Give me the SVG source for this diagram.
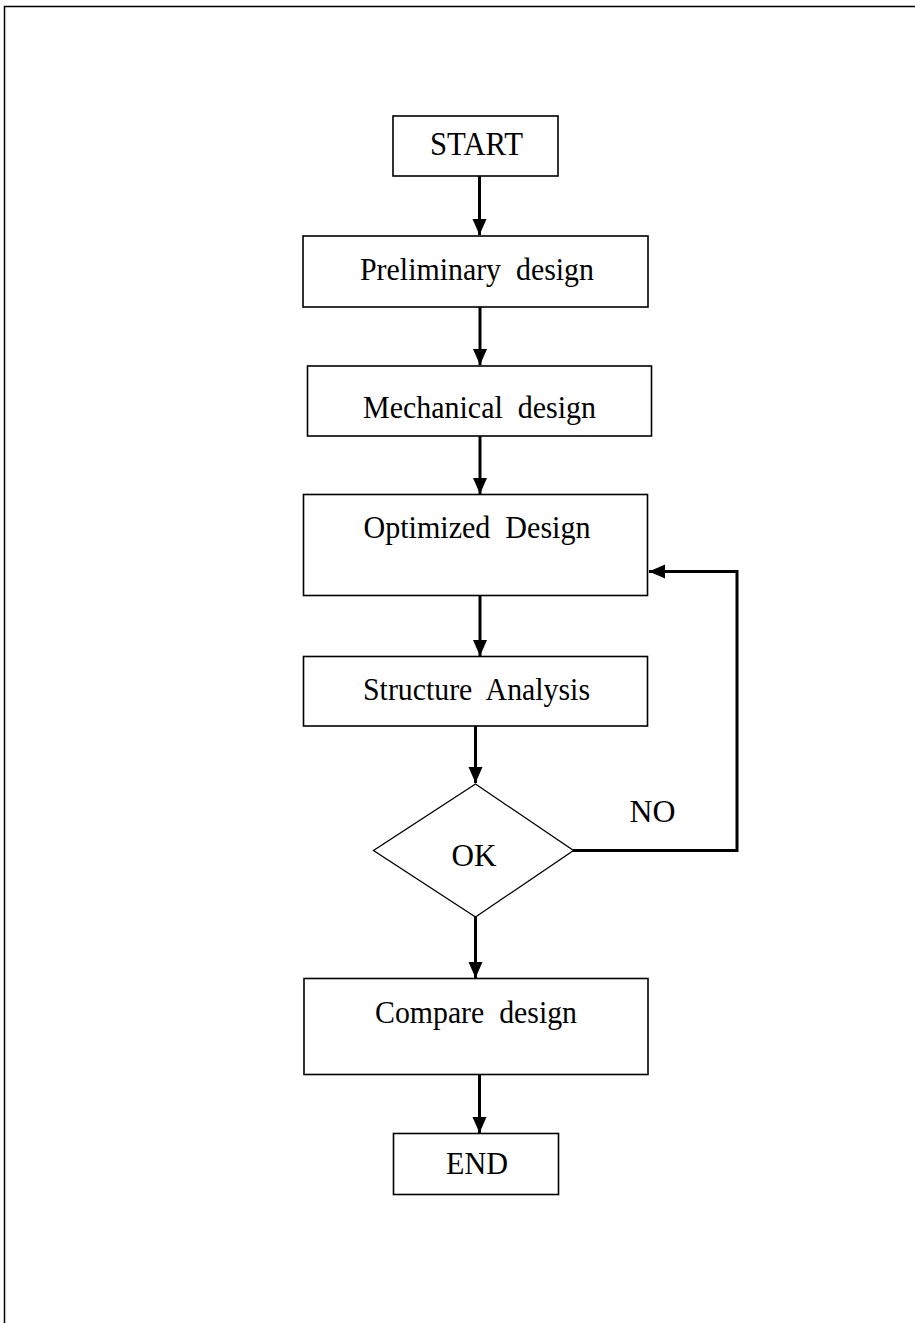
<svg xmlns="http://www.w3.org/2000/svg" width="915" height="1323" viewBox="0 0 915 1323">
<style>
.box{fill:#fff;stroke:#000;stroke-width:1.6}
.lbl{font-family:'Times New Roman','Liberation Serif',serif;font-size:32px;fill:#000}
.con{fill:none;stroke:#000;stroke-width:3}
.frame{fill:none;stroke:#000;stroke-width:1.5}
</style>
<defs>
<marker id="ah" markerUnits="userSpaceOnUse" markerWidth="17" markerHeight="16" refX="16" refY="8" orient="auto">
<path d="M0,1 L16,8 L0,15 z" fill="#000"/>
</marker>
</defs>
<rect width="915" height="1323" fill="#fff"/>
<path class="frame" d="M4.5,1323 V6.5 H915"/>
<g id="connectors">
<line class="con" x1="479.5" y1="176" x2="479.5" y2="235" marker-end="url(#ah)"/>
<line class="con" x1="480" y1="307" x2="480" y2="365" marker-end="url(#ah)"/>
<line class="con" x1="480" y1="436" x2="480" y2="494" marker-end="url(#ah)"/>
<line class="con" x1="480" y1="596" x2="480" y2="656" marker-end="url(#ah)"/>
<line class="con" x1="475.5" y1="726" x2="475.5" y2="783" marker-end="url(#ah)"/>
<line class="con" x1="475.5" y1="917" x2="475.5" y2="978" marker-end="url(#ah)"/>
<line class="con" x1="479.5" y1="1074" x2="479.5" y2="1133" marker-end="url(#ah)"/>
<polyline class="con" points="573,850.5 737,850.5 737,571.5 649,571.5" marker-end="url(#ah)"/>
<text class="lbl" x="629.5" y="821.5" textLength="46" lengthAdjust="spacingAndGlyphs">NO</text>
</g>
<g id="start">
<rect class="box" x="393" y="116" width="165" height="60"/>
<text class="lbl" x="430" y="155" style="font-size:34px" textLength="93" lengthAdjust="spacingAndGlyphs">START</text>
</g>
<g id="preliminary">
<rect class="box" x="303" y="236" width="345" height="71"/>
<text class="lbl" x="360" y="280" xml:space="preserve" textLength="234" lengthAdjust="spacingAndGlyphs">Preliminary  design</text>
</g>
<g id="mechanical">
<rect class="box" x="307.5" y="366" width="344" height="70"/>
<text class="lbl" x="363" y="418" xml:space="preserve" textLength="233" lengthAdjust="spacingAndGlyphs">Mechanical  design</text>
</g>
<g id="optimized">
<rect class="box" x="303.5" y="494.5" width="344" height="101"/>
<text class="lbl" x="363.5" y="538" xml:space="preserve" textLength="227" lengthAdjust="spacingAndGlyphs">Optimized  Design</text>
</g>
<g id="structure">
<rect class="box" x="303.5" y="656.5" width="344" height="69.5"/>
<text class="lbl" x="363" y="699.5" xml:space="preserve" textLength="227" lengthAdjust="spacingAndGlyphs">Structure  Analysis</text>
</g>
<g id="ok">
<polygon class="box" points="475.5,784 573.5,850.5 475.5,917 373.5,850.5" style="stroke-width:1.3"/>
<text class="lbl" x="451.5" y="866" textLength="45" lengthAdjust="spacingAndGlyphs">OK</text>
</g>
<g id="compare">
<rect class="box" x="304" y="978.5" width="344" height="96"/>
<text class="lbl" x="375" y="1022.5" xml:space="preserve" textLength="202" lengthAdjust="spacingAndGlyphs">Compare  design</text>
</g>
<g id="end">
<rect class="box" x="393.5" y="1133.5" width="165" height="61"/>
<text class="lbl" x="446" y="1173.5" textLength="62" lengthAdjust="spacingAndGlyphs">END</text>
</g>
</svg>
